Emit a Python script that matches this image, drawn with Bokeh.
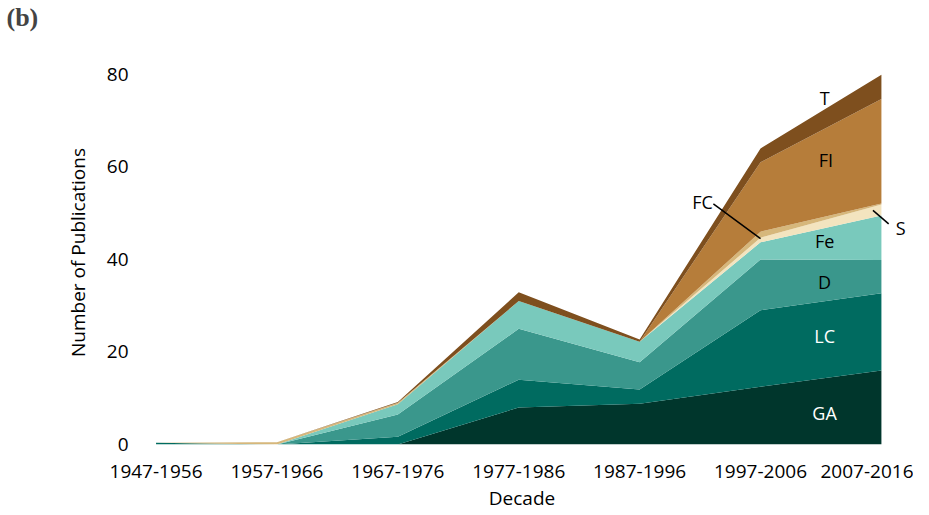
from bokeh.plotting import figure
from bokeh.models import ColumnDataSource, FixedTicker
from bokeh.core.properties import value
from bokeh.embed import file_html
from bokeh.resources import INLINE

decades = ["1947-1956", "1957-1966", "1967-1976", "1977-1986", "1987-1996", "1997-2006", "2007-2016"]
GA = [0, 0, 0, 8, 8.8, 12.5, 16]
LC = [0.4, 0, 1.7, 6, 3.1, 16.5, 16.7]
D = [0, 0, 4.8, 11, 5.9, 11, 7.2]
Fe = [0, 0, 2.2, 6, 4.4, 3.7, 9.6]
S = [0, 0, 0, 0, 0, 1, 2.4]
FC = [0, 0.5, 0.3, 0, 0, 1.3, 0.2]
FI = [0, 0, 0, 0, 0, 15, 22.6]
T = [0, 0, 0.2, 1.9, 0.5, 3, 5.2]

layers = ["GA", "LC", "D", "Fe", "S", "FC", "FI", "T"]
colors = ["#00362c", "#006b60", "#3a978c", "#79c9bc", "#f3e4bf", "#d6b77b", "#b67d3a", "#7e4f1e"]
y_ticks = [0, 20, 40, 60, 80]

# label positions (data units) and colours
lab_text = ["T", "FI", "FC", "S", "Fe", "D", "LC", "GA"]
lab_x = [5.53, 5.54, 4.52, 6.16, 5.53, 5.53, 5.53, 5.53]
lab_y = [75.0, 61.4, 52.4, 46.7, 43.9, 35.2, 23.4, 6.9]
lab_col = ["black", "black", "black", "black", "black", "black", "white", "white"]
leader_x0 = [4.61, 5.93]
leader_y0 = [52.0, 50.6]
leader_x1 = [5.0, 6.06]
leader_y1 = [44.5, 47.7]

xs = list(range(len(decades)))
src = ColumnDataSource(dict(x=xs, GA=GA, LC=LC, D=D, Fe=Fe, S=S, FC=FC, FI=FI, T=T))

p = figure(width=913, height=513, output_backend="svg", toolbar_location=None,
           x_range=(-0.17, 6.224), y_range=(0, 83.0),
           min_border_left=135, min_border_right=5, min_border_top=42, min_border_bottom=55)
p.varea_stack(stackers=layers, x="x", color=colors, source=src)

p.segment(x0=leader_x0, y0=leader_y0, x1=leader_x1, y1=leader_y1, line_color="black", line_width=1.5)
lsrc = ColumnDataSource(dict(x=lab_x, y=lab_y, t=lab_text, c=lab_col))
p.text(x="x", y="y", text="t", text_color="c", source=lsrc, text_align="center",
       text_baseline="middle", text_font=value("Open Sans"), text_font_size="18px")

p.title.text = "(b)\n"
p.title.text_font = "Liberation Serif"
p.title.text_font_style = "bold"
p.title.text_font_size = "26px"
p.title.align = "left"
p.title.offset = -129
p.title.standoff = 0

p.xgrid.visible = False
p.ygrid.visible = False
p.outline_line_color = None

p.xaxis.ticker = FixedTicker(ticks=xs)
p.xaxis.major_label_overrides = {i: d for i, d in enumerate(decades)}
p.yaxis.ticker = FixedTicker(ticks=y_ticks)
for ax in (p.xaxis, p.yaxis):
    ax.axis_line_color = None
    ax.major_tick_line_color = None
    ax.minor_tick_line_color = None
    ax.major_label_text_font = "Open Sans"
    ax.major_label_text_font_size = "19px"
    ax.major_label_text_color = "black"
    ax.axis_label_text_font = "Open Sans"
    ax.axis_label_text_font_size = "19px"
    ax.axis_label_text_font_style = "normal"
    ax.axis_label_text_color = "black"

p.xaxis.axis_label = "Decade"
p.yaxis.axis_label = "Number of Publications"
p.xaxis.major_label_standoff = 14
p.xaxis.axis_label_standoff = 4
p.yaxis.major_label_standoff = 1
p.yaxis.axis_label_standoff = 13

open("out.html", "w").write(file_html(p, INLINE))
